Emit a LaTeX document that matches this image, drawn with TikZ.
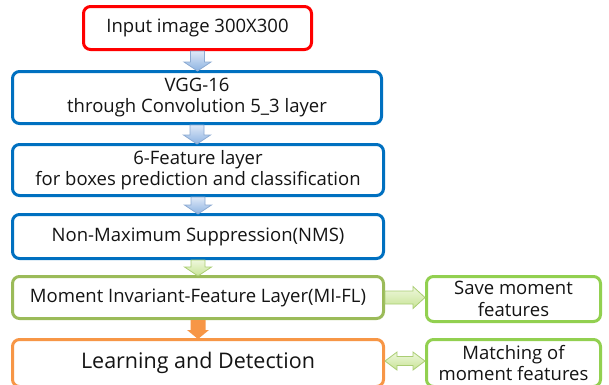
\documentclass[tikz,border=0pt]{standalone}
\usepackage{fontspec}
\setmainfont{Open Sans}
\usetikzlibrary{calc}
\definecolor{cred}{RGB}{255,0,0}
\definecolor{cblue}{RGB}{0,112,192}
\definecolor{cgreen}{RGB}{155,187,89}
\definecolor{clgreen}{RGB}{146,208,80}
\definecolor{corange}{RGB}{247,150,70}
\definecolor{abtop}{RGB}{222,232,247}
\definecolor{abbot}{RGB}{141,179,226}
\definecolor{abline}{RGB}{140,170,210}
\definecolor{agtop}{RGB}{238,247,220}
\definecolor{agbot}{RGB}{200,228,150}
\definecolor{agline}{RGB}{170,205,115}
\definecolor{txt}{RGB}{20,20,20}
\newcommand\flowdown[3]{%
  \draw[#3] let \p1=(#1.south), \p2=(#2.north) in
    (\x1-7pt,\y1) -- (\x1+7pt,\y1) -- (\x1+7pt,\y2+8pt) -- (\x1+13.5pt,\y2+8pt)
    -- (\x1,\y2-1pt) -- (\x1-13.5pt,\y2+8pt) -- (\x1-7pt,\y2+8pt) -- cycle;}
\begin{document}
\begin{tikzpicture}[x=1pt,y=-1pt,
  box/.style={draw, line width=3pt, rounded corners=7pt, fill=white, align=center,
    inner sep=0pt, text=txt, font=\fontsize{18.5}{21.5}\selectfont},
  bluearrow/.style={line width=0.8pt, draw=abline, top color=abtop, bottom color=abbot},
  greenarrow/.style={line width=0.8pt, draw=agline, top color=agtop, bottom color=agbot},
  orangearrow/.style={fill=corange, draw=none}]
\useasboundingbox (0,0) rectangle (609,384);
\clip (0,0) rectangle (609,384);
\node[box, draw=cred, minimum width=228pt, minimum height=43pt] (inp) at (197.5,28) {Input image 300X300};
\node[box, draw=cblue, minimum width=369pt, minimum height=52pt] (vgg) at (197,97.5) {VGG-16\\through Convolution 5\_3 layer};
\node[box, draw=cblue, minimum width=371pt, minimum height=51pt] (feat) at (198,170) {6-Feature layer\\for boxes prediction and classification};
\node[box, draw=cblue, minimum width=371pt, minimum height=44pt] (nms) at (198,236.5) {Non-Maximum Suppression(NMS)};
\node[box, draw=cgreen, minimum width=371pt, minimum height=42pt] (mi) at (198,297.5) {Moment Invariant-Feature Layer(MI-FL)};
\node[box, draw=corange, minimum width=371pt, minimum height=47pt, font=\fontsize{21.5}{24}\selectfont] (ld) at (198,363) {Learning and Detection};
\node[box, draw=clgreen, minimum width=174pt, minimum height=45pt] (save) at (513.5,299) {Save moment\\features};
\node[box, draw=clgreen, minimum width=174pt, minimum height=47pt] (match) at (513.5,363) {Matching of\\moment features};
\flowdown{inp}{vgg}{bluearrow}
\flowdown{vgg}{feat}{bluearrow}
\flowdown{feat}{nms}{bluearrow}
\flowdown{nms}{mi}{greenarrow}
\draw[orangearrow] let \p1=(mi.south), \p2=(ld.north) in
    (\x1-7.5pt,\y1) -- (\x1+7.5pt,\y1) -- (\x1+7.5pt,\y2+8pt) -- (\x1+11pt,\y2+8pt)
    -- (\x1,\y2-1pt) -- (\x1-11pt,\y2+8pt) -- (\x1-7.5pt,\y2+8pt) -- cycle;
\draw[greenarrow] let \p1=(mi.east), \p2=(save.west) in
    (\x1,\y1+6.5pt) -- (\x2-12pt,\y1+6.5pt) -- (\x2-12pt,\y1+11pt) -- (\x2,\y1)
    -- (\x2-12pt,\y1-11pt) -- (\x2-12pt,\y1-6.5pt) -- (\x1,\y1-6.5pt) -- cycle;
\draw[greenarrow] let \p1=(ld.east), \p2=(match.west) in
    (\x1,\y1+2pt) -- (\x1+12pt,\y1+11pt) -- (\x1+12pt,\y1+6.5pt) -- (\x2-12pt,\y1+6.5pt)
    -- (\x2-12pt,\y1+11pt) -- (\x2,\y1+2pt) -- (\x2-12pt,\y1-7pt) -- (\x2-12pt,\y1-2.5pt)
    -- (\x1+12pt,\y1-2.5pt) -- (\x1+12pt,\y1-7pt) -- cycle;
\end{tikzpicture}
\end{document}
